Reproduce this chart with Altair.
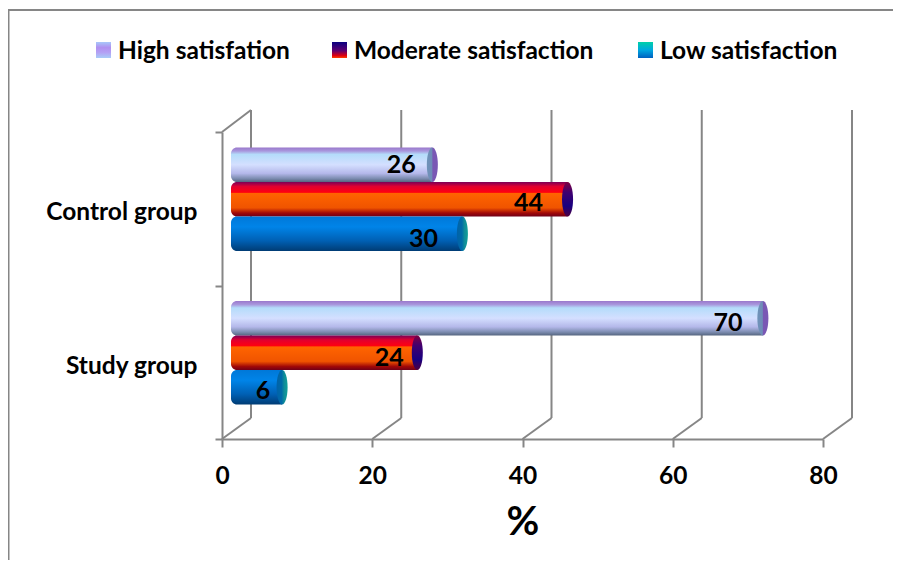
import altair as alt
import pandas as pd

groups = ["Control group", "Study group"]
series = ["High satisfation", "Moderate satisfaction", "Low satisfaction"]
high = [26, 70]
moderate = [44, 24]
low = [30, 6]
x_ticks = [0, 20, 40, 60, 80]

GREY = "#868686"
FONT = "Lato"
W, H = 885, 552


def grad(stops, horizontal=False):
    return alt.Gradient(
        gradient="linear", x1=0, x2=1 if horizontal else 0, y1=0, y2=0 if horizontal else 1,
        stops=[alt.GradientStop(offset=o, color=c) for o, c in stops],
    )


body = {
    series[0]: grad([(0, "#9a78cc"), (0.1, "#a896dc"), (0.2, "#b4dcfa"), (0.5, "#d4dfff"),
                     (0.75, "#b4b8ea"), (0.9, "#7c8cb0"), (1, "#55657f")]),
    series[1]: grad([(0, "#7a0058"), (0.13, "#e00030"), (0.3, "#ff0010"), (0.33, "#ff6400"),
                     (0.75, "#f05400"), (0.9, "#a00808"), (1, "#700018")]),
    series[2]: grad([(0, "#0078d8"), (0.3, "#0084e8"), (0.7, "#0060b4"), (1, "#003c74")]),
}
cap = {
    series[0]: grad([(0, "#6f93b8"), (0.45, "#6f8cb8"), (0.55, "#7a58b4"), (1, "#7a58b4")], True),
    series[1]: grad([(0, "#800040"), (0.3, "#400070"), (0.7, "#180080"), (1, "#500040")]),
    series[2]: grad([(0, "#0062a8"), (0.45, "#006aa8"), (0.7, "#108c98"), (1, "#10a098")], True),
}
swatch = {
    series[0]: grad([(0, "#a8c8fa"), (0.35, "#b090f0"), (0.65, "#b4a0f4"), (1, "#a8ccf8")]),
    series[1]: grad([(0, "#0a0080"), (0.55, "#600070"), (0.85, "#e00010"), (1, "#ff4000")]),
    series[2]: grad([(0, "#00d0a8"), (0.5, "#00a8e0"), (1, "#0060c0")]),
}

rows = []
for name, vals in zip(series, [high, moderate, low]):
    for g, v in zip(groups, vals):
        rows.append({"group": g, "series": name, "value": v, "base": 0})
df = pd.DataFrame(rows)

x_scale = alt.Scale(domain=[0, 80], range=[214, 815], nice=False, zero=False)
y_scale = alt.Scale(domain=groups, range=[124, 431], paddingInner=0, paddingOuter=0)
off_scale = alt.Scale(domain=series, range=[15.5, 119], paddingInner=0, paddingOuter=0)

x_axis = alt.Axis(
    values=x_ticks, grid=False, offset=431 - H, domainColor=GREY, domainWidth=2, tickColor=GREY,
    tickWidth=2, tickSize=8, labelFont=FONT, labelFontSize=24.5, labelFontWeight="bold",
    labelColor="#000000", labelPadding=17, labelFlush=False, title="%", titleFont=FONT,
    titleFontSize=40, titleFontWeight="bold", titleColor="#000000", titlePadding=15,
)
y_axis = alt.Axis(
    title=None, grid=False, offset=-214, domainColor=GREY, domainWidth=2, tickColor=GREY,
    tickWidth=2, tickSize=7, tickBand="extent", labelFont=FONT, labelFontSize=24.5,
    labelFontWeight="bold", labelColor="#000000", labelPadding=18, labelOffset=4,
)

X = alt.X("value:Q", scale=x_scale, axis=x_axis)
Y = alt.Y("group:N", scale=y_scale, axis=y_axis)
OFF = alt.YOffset("series:N", scale=off_scale)

grid_df = pd.DataFrame({"value": x_ticks})
grid_base = alt.Chart(grid_df)
walls = grid_base.mark_rule(color=GREY, strokeWidth=2, xOffset=29, x2Offset=29).encode(
    x=X, y=alt.value(102), y2=alt.value(410)
)
floor = grid_base.mark_rule(color=GREY, strokeWidth=2, x2Offset=29).encode(
    x=X, x2="value:Q", y=alt.value(431), y2=alt.value(410)
)
top_diag = alt.Chart(pd.DataFrame({"value": [0]})).mark_rule(color=GREY, strokeWidth=2, x2Offset=29).encode(
    x=X, x2="value:Q", y=alt.value(124), y2=alt.value(102)
)
frame_top = alt.Chart(pd.DataFrame({"a": [0]})).mark_rule(color=GREY, strokeWidth=2).encode(
    x=alt.value(0), x2=alt.value(W), y=alt.value(2)
)
frame_left = alt.Chart(pd.DataFrame({"a": [0]})).mark_rule(color=GREY, strokeWidth=2).encode(
    x=alt.value(0.5), y=alt.value(2), y2=alt.value(H)
)

layers = [frame_top, frame_left, walls, floor, top_diag]

for name in series:
    sub = alt.Chart(df[df.series == name])
    layers.append(
        sub.mark_bar(fill=body[name], xOffset=9, x2Offset=15,
                     cornerRadiusTopLeft=6, cornerRadiusBottomLeft=6).encode(
            x=alt.X("base:Q", scale=x_scale, axis=x_axis), x2="value:Q", y=Y, yOffset=OFF)
    )
    layers.append(
        sub.mark_point(shape="M0,-1 A0.32,1 0 1 1 0,1 A0.32,1 0 1 1 0,-1 Z", size=1190, filled=True,
                       fill=cap[name], opacity=1, xOffset=15).encode(
            x=X, y=Y, yOffset=OFF)
    )

labels = [
    ("Control group", series[0], 26, -16, 0),
    ("Control group", series[1], 44, -24, 4),
    ("Control group", series[2], 30, -24, 5),
    ("Study group", series[0], 70, -20, 5),
    ("Study group", series[1], 24, -13, 5),
    ("Study group", series[2], 6, -4, 4),
]
for g, s, v, dx, dy in labels:
    row = df[(df.group == g) & (df.series == s)]
    layers.append(
        alt.Chart(row).mark_text(font=FONT, fontSize=25, fontWeight="bold", color="#000000",
                                 dx=dx, dy=dy).encode(
            x=X, y=Y, yOffset=OFF, text=alt.Text("value:Q"))
    )

legend_x = {series[0]: 88, series[1]: 324, series[2]: 630}
for name in series:
    one = alt.Chart(pd.DataFrame({"label": [name]}))
    layers.append(one.mark_rect(fill=swatch[name]).encode(
        x=alt.value(legend_x[name]), x2=alt.value(legend_x[name] + 15),
        y=alt.value(34), y2=alt.value(50)))
    layers.append(one.mark_text(font=FONT, fontSize=24.5, fontWeight="bold", color="#000000",
                                align="left", baseline="middle").encode(
        x=alt.value(legend_x[name] + 22), y=alt.value(43.5), text="label:N"))

chart = alt.layer(*layers).properties(
    width=W, height=H, padding=0, autosize=alt.AutoSizeParams(type="none"), background="#ffffff"
).configure_view(stroke=None)

chart.save("out.html", embed_options={"renderer": "svg", "actions": False})
